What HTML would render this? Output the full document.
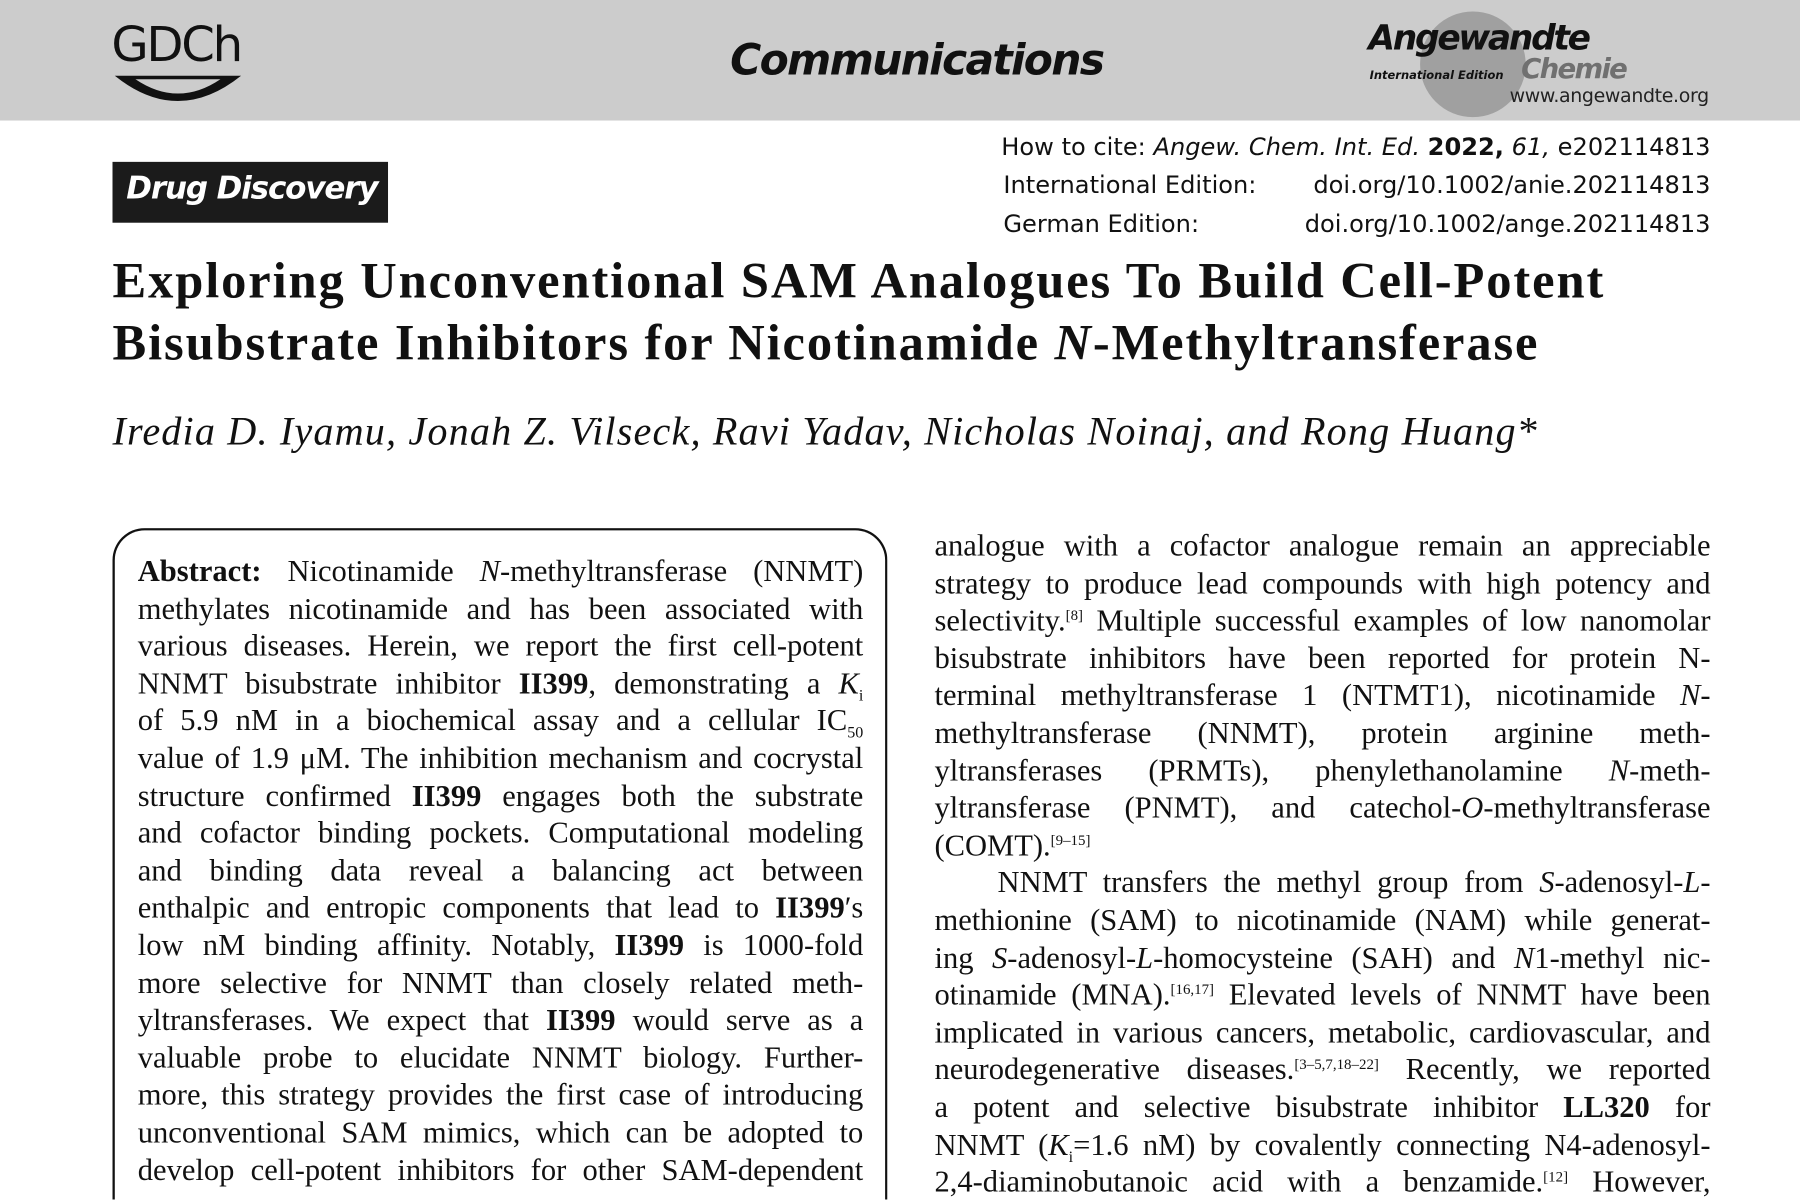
<!DOCTYPE html>
<html><head><meta charset="utf-8"><style>
html,body{margin:0;padding:0;width:1800px;height:1200px;overflow:hidden;background:#fff}
#s{position:absolute;left:0;top:0;width:1568px;height:1045px;transform:scale(1.148);transform-origin:0 0;overflow:hidden}
.a{position:absolute;white-space:nowrap}
.sans{font-family:"DejaVu Sans","Liberation Sans",sans-serif}
.ser{font-family:"Liberation Serif",serif}
.ln{position:absolute;height:33px;font-family:"Liberation Serif",serif;font-size:26.6px;line-height:33px;text-align:justify;text-align-last:justify;white-space:nowrap;color:#111}
sup{font-size:13px;line-height:0;vertical-align:9px}
sub{font-size:14px;line-height:0}
</style></head><body>
<div id="s">
<div style="position:absolute;left:0;top:0;width:1568px;height:105px;background:#cccccc"></div>
<div class="a" style="left:97px;top:14px;font-family:'DejaVu Sans',sans-serif;font-size:42px;letter-spacing:-2px;color:#111">GDCh</div>
<svg class="a" style="left:98px;top:64px" width="114" height="30"><path d="M2 2 H112 Q57 46 2 2 Z" fill="#111"/><path d="M20 5 H94 Q57 30 20 5Z" fill="#ccc"/></svg>
<div class="a" style="left:636px;top:31px;font-family:'DejaVu Sans',sans-serif;font-weight:bold;font-style:italic;font-size:37px;letter-spacing:-1.5px;color:#111">Communications</div>
<div style="position:absolute;left:1237px;top:10px;width:92px;height:92px;border-radius:50%;background:#a0a0a0"></div>
<div class="a" style="left:1192px;top:16px;font-family:'DejaVu Sans',sans-serif;font-weight:bold;font-style:italic;font-size:30px;letter-spacing:-2px;color:#111">Angewandte</div>
<div class="a" style="left:1193px;top:61px;font-family:'DejaVu Sans',sans-serif;font-weight:bold;font-style:italic;font-size:10px;color:#111">International Edition</div>
<div class="a" style="left:1325px;top:46px;font-family:'DejaVu Sans',sans-serif;font-weight:bold;font-style:italic;font-size:24px;letter-spacing:-1.5px;color:#707070">Chemie</div>
<div class="a" style="left:1315px;top:74px;font-family:'DejaVu Sans',sans-serif;font-size:16.5px;letter-spacing:-0.3px;color:#222">www.angewandte.org</div>
<div class="a sans" style="right:78px;top:116px;font-size:21px;color:#111;text-align:right">How to cite: <i>Angew. Chem. Int. Ed.</i> <b>2022,</b> <i>61,</i> e202114813</div>
<div class="a sans" style="left:874px;width:616px;top:149px;font-size:21px;color:#111">International Edition:<span style="position:absolute;right:0">doi.org/10.1002/anie.202114813</span></div>
<div class="a sans" style="left:874px;width:616px;top:183px;font-size:21px;color:#111">German Edition:<span style="position:absolute;right:0">doi.org/10.1002/ange.202114813</span></div>
<div style="position:absolute;left:98px;top:141px;width:240px;height:53px;background:#1b1b1b"></div>
<div class="a" style="left:110px;top:149px;font-family:'DejaVu Sans',sans-serif;font-weight:bold;font-style:italic;font-size:27px;letter-spacing:-1px;color:#fff">Drug Discovery</div>
<div class="a ser" style="left:98px;top:218px;font-size:44px;letter-spacing:1.65px;font-weight:bold;line-height:54px;color:#111">Exploring Unconventional SAM Analogues To Build Cell-Potent<br>Bisubstrate Inhibitors for Nicotinamide <i>N</i>-Methyltransferase</div>
<div class="a ser" style="left:98px;top:356px;font-size:35px;letter-spacing:1.0px;font-style:italic;color:#111">Iredia D. Iyamu, Jonah Z. Vilseck, Ravi Yadav, Nicholas Noinaj, and Rong Huang*</div>
<div style="position:absolute;left:98px;top:460px;width:671px;height:583px;border:2px solid #111;border-bottom:none;border-radius:28px 28px 0 0"></div>
<div id="abs"></div><div id="rc"></div>
</div>
<script>
const abs=["<b>Abstract:</b> Nicotinamide <i>N</i>-methyltransferase (NNMT)","methylates nicotinamide and has been associated with","various diseases. Herein, we report the first cell-potent","NNMT bisubstrate inhibitor <b>II399</b>, demonstrating a <i>K</i><sub>i</sub>","of 5.9 nM in a biochemical assay and a cellular IC<sub>50</sub>","value of 1.9 μM. The inhibition mechanism and cocrystal","structure confirmed <b>II399</b> engages both the substrate","and cofactor binding pockets. Computational modeling","and binding data reveal a balancing act between","enthalpic and entropic components that lead to <b>II399</b>′s","low nM binding affinity. Notably, <b>II399</b> is 1000-fold","more selective for NNMT than closely related meth-","yltransferases. We expect that <b>II399</b> would serve as a","valuable probe to elucidate NNMT biology. Further-","more, this strategy provides the first case of introducing","unconventional SAM mimics, which can be adopted to","develop cell-potent inhibitors for other SAM-dependent"];
const rc=["analogue with a cofactor analogue remain an appreciable","strategy to produce lead compounds with high potency and","selectivity.<sup>[8]</sup> Multiple successful examples of low nanomolar","bisubstrate inhibitors have been reported for protein N-","terminal methyltransferase 1 (NTMT1), nicotinamide <i>N</i>-","methyltransferase (NNMT), protein arginine meth-","yltransferases (PRMTs), phenylethanolamine <i>N</i>-meth-","yltransferase (PNMT), and catechol-<i>O</i>-methyltransferase","(COMT).<sup>[9–15]</sup>","&nbsp;&nbsp;&nbsp;&nbsp;NNMT transfers the methyl group from <i>S</i>-adenosyl-<i>L</i>-","methionine (SAM) to nicotinamide (NAM) while generat-","ing <i>S</i>-adenosyl-<i>L</i>-homocysteine (SAH) and <i>N</i>1-methyl nic-","otinamide (MNA).<sup>[16,17]</sup> Elevated levels of NNMT have been","implicated in various cancers, metabolic, cardiovascular, and","neurodegenerative diseases.<sup>[3–5,7,18–22]</sup> Recently, we reported","a potent and selective bisubstrate inhibitor <b>LL320</b> for","NNMT (<i>K</i><sub>i</sub>=1.6 nM) by covalently connecting N4-adenosyl-","2,4-diaminobutanoic acid with a benzamide.<sup>[12]</sup> However,"];
function put(arr,host,x,w,y0,name){const h=document.getElementById(host);arr.forEach((t,i)=>{const d=document.createElement('div');d.className='ln';d.style.left=x+'px';d.style.width=w+'px';d.style.top=(y0+i*32.6)+'px';if(t.indexOf('(COMT)')===0)d.style.textAlignLast='left';d.innerHTML=t;


h.appendChild(d);});}
put(abs,'abs',120,632,481,'abstract-line');
put(rc,'rc',814,676,459,'body-text-line');
</script>
</body></html>
